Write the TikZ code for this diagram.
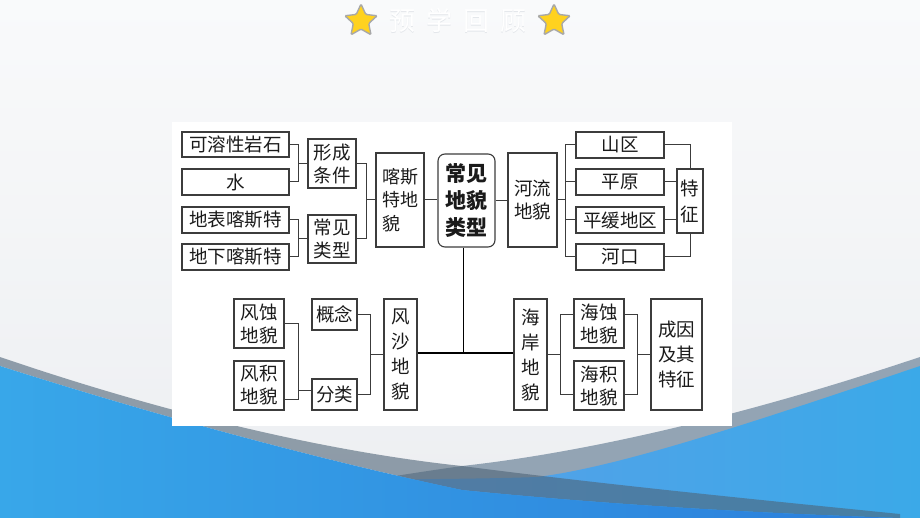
\documentclass[tikz,border=0pt]{standalone}
\usepackage{fontspec}
\newfontfamily\cjk{Noto Sans CJK SC}
\usetikzlibrary{shapes.geometric,calc}
\definecolor{bgTop}{HTML}{F9FAFB}
\definecolor{bgBot}{HTML}{ECEEF1}
\definecolor{rgray}{HTML}{93A4B4}
\definecolor{lgray}{HTML}{4E6477}
\definecolor{blueA}{HTML}{38A7E9}
\definecolor{blueB}{HTML}{2B7EDB}
\definecolor{blueC}{HTML}{5A9FE8}
\definecolor{blueD}{HTML}{3BA9E8}
\definecolor{boxc}{HTML}{3C3C3C}
\definecolor{txt}{HTML}{1A1A1A}
\definecolor{starY}{HTML}{FFD21F}
\definecolor{starE}{HTML}{A8A8A8}
\definecolor{ttlShadow}{HTML}{E4E7EB}
\tikzset{
  bx/.style={draw=boxc, line width=1.1pt, fill=white, inner sep=0pt, align=center, text=txt,
             font=\cjk\fontsize{18.5}{25}\selectfont},
  bxtwo/.style={bx, font=\cjk\fontsize{18.5}{23}\selectfont},
  conn/.style={draw=boxc, line width=1pt},
  mainline/.style={draw=black, line width=1.8pt},
  gstar/.style={star, star points=5, star point ratio=2.1, minimum size=34pt, inner sep=0pt,
                fill=starY, draw=starE, line width=1.4pt, rounded corners=1.2pt},
  ttlfont/.style={font=\cjk\fontsize{26}{26}\selectfont},
}
\begin{document}
\begin{tikzpicture}[x=1pt,y=-1pt]
\useasboundingbox (0,0) rectangle (920,518);
% background
\shade[top color=bgTop, bottom color=bgBot] (0,0) rectangle (920,518);
% right swoosh
\fill[rgray] (920,357) .. controls (750,414) and (590,452) .. (462,466)
   .. controls (420,472) and (380,478) .. (300,492) -- (300,518) -- (920,518) -- cycle;
\shade[left color=blueC, right color=blueD] (920,366) .. controls (760,420) and (620,467) .. (537,477)
   .. controls (480,479) and (420,479) .. (360,480) -- (360,518) -- (920,518) -- cycle;
% left swoosh
\fill[lgray, opacity=.6] (0,357) .. controls (170,415) and (330,452) .. (462,466)
   .. controls (600,484) and (760,500) .. (900,514) -- (900,518)
   .. controls (780,514) and (620,506) .. (462,490)
   .. controls (330,462) and (170,420) .. (0,366) -- cycle;
\shade[left color=blueA, right color=blueB] (0,366) .. controls (170,420) and (330,462) .. (462,490)
   .. controls (620,506) and (780,514) .. (900,518) -- (0,518) -- cycle;
% title
\node[gstar] (s1) at (361,21) {};
\node[gstar] (s2) at (554,21) {};
\node[text=ttlShadow, ttlfont] (tts) at (458.2,21.7) {预\hspace{11pt}学\hspace{11pt}回\hspace{11pt}顾};
\node[text=white, ttlfont] (ttl) at (457.5,21) {预\hspace{11pt}学\hspace{11pt}回\hspace{11pt}顾};
% panel
\fill[white] (172,122) rectangle (732,426);
% karst
\node[bx, minimum width=107pt, minimum height=25pt] (ks1) at (235.5,144.5) {可溶性岩石};
\node[bx, minimum width=107pt, minimum height=26pt] (ks2) at (235.5,182) {水};
\node[bx, minimum width=107pt, minimum height=26pt] (ks3) at (235.5,220) {地表喀斯特};
\node[bx, minimum width=107pt, minimum height=26pt] (ks4) at (235.5,257) {地下喀斯特};
\node[bxtwo, minimum width=48pt, minimum height=49pt] (xc) at (332,163.5) {形成\\条件};
\node[bxtwo, minimum width=48pt, minimum height=48pt] (cl) at (332,239) {常见\\类型};
\node[bx, align=left, font=\cjk\fontsize{18}{23.5}\selectfont, minimum width=48pt, minimum height=94pt] (ks) at (400,200) {喀斯\\特地\\貌};
% center
\node[bx, rounded corners=7pt, font=\cjk\bfseries\fontsize{21}{27}\selectfont, minimum width=57pt, minimum height=93pt] (main) at (466.5,200.5) {常见\\地貌\\类型};
% river
\node[bxtwo, minimum width=49pt, minimum height=94pt] (hl) at (532.5,200) {河流\\地貌};
\node[bx, minimum width=88pt, minimum height=26pt] (sq) at (620,145) {山区};
\node[bx, minimum width=88pt, minimum height=26pt] (py) at (620,182) {平原};
\node[bx, minimum width=88pt, minimum height=26pt] (ph) at (620,220) {平缓地区};
\node[bx, minimum width=88pt, minimum height=26pt] (hk) at (620,257) {河口};
\node[bx, font=\cjk\fontsize{18.5}{26}\selectfont, minimum width=26pt, minimum height=64pt] (tz) at (690,201) {特\\征};
% aeolian
\node[bxtwo, minimum width=50pt, minimum height=49pt] (fs1) at (259,323.5) {风蚀\\地貌};
\node[bxtwo, minimum width=50pt, minimum height=49pt] (fs2) at (259,385.5) {风积\\地貌};
\node[bx, minimum width=45pt, minimum height=31pt] (gn) at (334.5,314.5) {概念};
\node[bx, minimum width=45pt, minimum height=31pt] (fl) at (334.5,394.5) {分类};
\node[bx, minimum width=33pt, minimum height=111pt] (fsd) at (400.5,354.5) {风\\沙\\地\\貌};
% coast
\node[bx, minimum width=33pt, minimum height=111pt] (ha) at (530.5,354.5) {海\\岸\\地\\貌};
\node[bxtwo, minimum width=50pt, minimum height=49pt] (hs1) at (599,323.5) {海蚀\\地貌};
\node[bxtwo, minimum width=50pt, minimum height=49pt] (hs2) at (599,385.5) {海积\\地貌};
\node[bxtwo, font=\cjk\fontsize{18.5}{25}\selectfont, minimum width=51pt, minimum height=111pt] (cy) at (676.5,354.5) {成因\\及其\\特征};
% junctions
\coordinate (j1) at (298,163.5);
\coordinate (j2) at (298,239);
\coordinate (j3) at (366.5,200);
\coordinate (j4) at (565,200);
\coordinate (j6) at (298,390);
\coordinate (j7) at (370.7,354.5);
\coordinate (j8) at (560,354.5);
\coordinate (j9) at (637.3,354.5);
% karst connectors
\draw[conn] (ks1.east) -| (j1);
\draw[conn] (ks2.east) -| (j1);
\draw[conn] (j1) -- (xc.west);
\draw[conn] (ks3.east) -| (j2);
\draw[conn] (ks4.east) -| (j2);
\draw[conn] (j2) -- (cl.west);
\draw[conn] (xc.east) -| (j3);
\draw[conn] (cl.east) -| (j3);
\draw[conn] (j3) -- (ks.west);
\draw[conn] (ks.east) -- (ks.east -| main.west);
\draw[conn] (main.east) -- (main.east -| hl.west);
% river connectors
\draw[conn] (hl.east) -- (j4);
\draw[conn] (j4) |- (sq.west);
\draw[conn] (j4) |- (py.west);
\draw[conn] (j4) |- (ph.west);
\draw[conn] (j4) |- (hk.west);
\draw[conn] (sq.east) -| (tz.north);
\draw[conn] (hk.east) -| (tz.south);
\draw[conn] (py.east) -- (py.east -| tz.west);
\draw[conn] (ph.east) -- (ph.east -| tz.west);
% main trunk
\draw[mainline] ($(main.south)+(-3,0)$) -- ($(main.south |- fsd.east)+(-3,-1.5)$);
\draw[mainline] ($(fsd.east)+(0,-1.5)$) -- ($(ha.west)+(0,-1.5)$);
% aeolian connectors
\draw[conn] (fs1.east) -| ($(fs2.east)+(14,13.5)$) -- ($(fs2.east)+(0,13.5)$);
\draw[conn] (j6) -- (j6 -| fl.west);
\draw[conn] (gn.east) -| (j7);
\draw[conn] (fl.east) -| (j7);
\draw[conn] (j7) -- (fsd.west);
% coast connectors
\draw[conn] (ha.east) -- (j8);
\draw[conn] (j8) |- ($(hs1.west)+(0,-9.5)$);
\draw[conn] (j8) |- ($(hs2.west)+(0,9)$);
\draw[conn] ($(hs1.east)+(0,-9.5)$) -| (j9);
\draw[conn] ($(hs2.east)+(0,9)$) -| (j9);
\draw[conn] (j9) -- (cy.west);
\end{tikzpicture}
\end{document}
